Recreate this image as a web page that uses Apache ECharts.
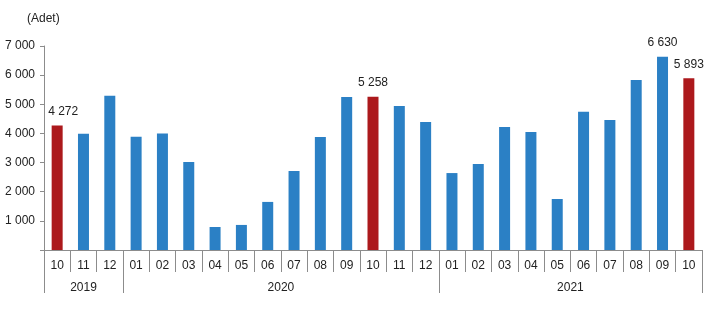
<!DOCTYPE html>
<html>
<head>
<meta charset="utf-8">
<script src="https://cdn.jsdelivr.net/npm/echarts@6/dist/echarts.min.js"></script>
<style>html,body{margin:0;padding:0;background:#fff}#c{width:711px;height:329px}</style>
</head>
<body>
<div id="c"></div>
<script>
const months = ['10','11','12','01','02','03','04','05','06','07','08','09','10','11','12','01','02','03','04','05','06','07','08','09','10'];
const years  = ['2019','2019','2019','2020','2020','2020','2020','2020','2020','2020','2020','2020','2020','2020','2020','2021','2021','2021','2021','2021','2021','2021','2021','2021','2021'];
const values = [4272,3990,5290,3890,4000,3020,790,860,1650,2710,3880,5250,5258,4940,4390,2640,2950,4220,4050,1750,4740,4460,5830,6630,5893];
const labelled = [0,12,23,24];
const yTicks = [0,1000,2000,3000,4000,5000,6000,7000];

const fmt = v => String(v).replace(/\B(?=(\d{3})+(?!\d))/g, ' ');
const BLUE = '#2B80C5', RED = '#AC191C';

// year group boundaries and centres derived from the years array
const bounds = [0], centres = [], yearNames = [];
let start = 0;
for (let i = 1; i <= years.length; i++) {
  if (i === years.length || years[i] !== years[i-1]) {
    bounds.push(i); centres.push((start + i) / 2); yearNames.push(years[start]); start = i;
  }
}

const data = values.map((v, i) => ({
  value: v,
  itemStyle: { color: months[i] === '10' ? RED : BLUE },
  label: { show: labelled.includes(i), offset: i === 0 ? [6, 0] : [0, 0] }
}));

const font = 'Liberation Sans, Arial, sans-serif';
const chart = echarts.init(document.getElementById('c'));
chart.setOption({
  animation: false,
  title: { text: '(Adet)', left: 22, top: 8, textStyle: { fontFamily: font, fontSize: 12, fontWeight: 'normal', color: '#222' } },
  grid: { left: 44, right: 9, top: 46, bottom: 79, containLabel: false },
  xAxis: [{
    type: 'category', data: months, boundaryGap: true,
    axisLine: { lineStyle: { color: '#8c8c8c' } },
    axisTick: { show: true, length: 22, lineStyle: { color: '#8c8c8c' } },
    axisLabel: { interval: 0, margin: 10, fontFamily: font, fontSize: 12, color: '#222' }
  }, {
    type: 'value', min: 0, max: months.length, position: 'bottom', offset: 22,
    axisLine: { show: false },
    splitLine: { show: false },
    axisTick: { show: true, customValues: bounds, length: 21, lineStyle: { color: '#8c8c8c' } },
    axisLabel: { customValues: centres, margin: 10, fontFamily: font, fontSize: 12, color: '#222',
      formatter: v => yearNames[centres.indexOf(v)] }
  }],
  yAxis: {
    type: 'value', min: yTicks[0], max: yTicks[yTicks.length-1], interval: 1000,
    axisLine: { show: true, lineStyle: { color: '#8c8c8c' } },
    axisTick: { show: true, length: 4, lineStyle: { color: '#8c8c8c' } },
    splitLine: { show: false },
    axisLabel: { margin: 9, fontFamily: font, fontSize: 12, color: '#222', formatter: v => v === 0 ? '' : fmt(v) }
  },
  series: [{
    type: 'bar', data: data, barWidth: 11,
    label: { position: 'top', distance: 8, fontFamily: font, fontSize: 12, color: '#222', formatter: p => fmt(p.value) }
  }]
});
</script>
</body>
</html>
